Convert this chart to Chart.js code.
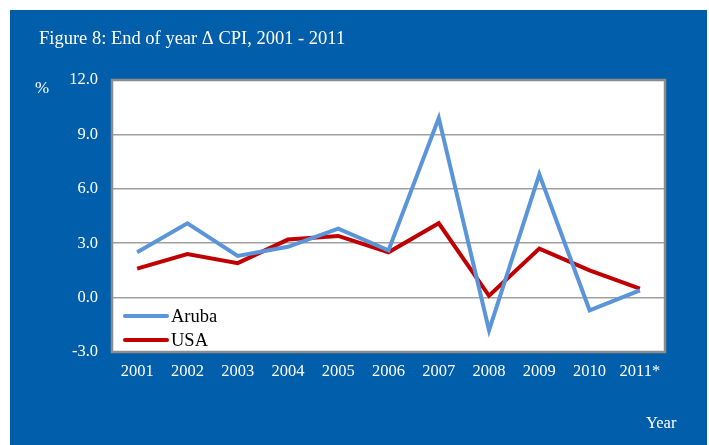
<!DOCTYPE html>
<html>
<head>
<meta charset="utf-8">
<script src="https://cdn.jsdelivr.net/npm/chart.js@4.4.1/dist/chart.umd.min.js"></script>
<style>
  html, body { margin: 0; padding: 0; background: #ffffff; }
  #wrap { position: relative; width: 709px; height: 445px; }
</style>
</head>
<body>
<div id="wrap"><canvas id="cpiChart" width="709" height="445"></canvas></div>
<script>
// End of year change in CPI
const years = ['2001', '2002', '2003', '2004', '2005', '2006', '2007', '2008', '2009', '2010', '2011*'];
const aruba = [2.5, 4.1, 2.3, 2.8, 3.8, 2.6, 9.9, -1.8, 6.8, -0.7, 0.4];
const usa = [1.6, 2.4, 1.9, 3.2, 3.4, 2.5, 4.1, 0.1, 2.7, 1.5, 0.5];
const yTicks = [-3, 0, 3, 6, 9, 12];

const BLUE_BG = '#005EAA';
const SERIF = '"Liberation Serif", "Times New Roman", serif';

// blue panel, white plot area, border, title and legend
const framePlugin = {
  id: 'frame',
  beforeDraw(chart) {
    const { ctx, chartArea: a } = chart;
    ctx.save();
    ctx.fillStyle = '#ffffff';
    ctx.fillRect(0, 0, chart.width, chart.height);
    ctx.fillStyle = BLUE_BG;
    ctx.fillRect(10, 10, 697, 435);
    ctx.fillStyle = '#ffffff';
    ctx.fillRect(a.left, a.top, a.right - a.left, a.bottom - a.top);
    ctx.restore();
  },
  afterDatasetsDraw(chart) {
    const { ctx, chartArea: a } = chart;
    ctx.save();
    // plot border
    ctx.strokeStyle = '#8c8c8c';
    ctx.lineWidth = 2.5;
    ctx.strokeRect(a.left, a.top, a.right - a.left, a.bottom - a.top);

    // texts on the blue panel
    ctx.fillStyle = '#ffffff';
    ctx.textBaseline = 'alphabetic';
    ctx.textAlign = 'left';
    ctx.font = '18.5px ' + SERIF;
    ctx.fillText('Figure 8: End of year \u0394 CPI, 2001 - 2011', 39, 44);
    ctx.font = '17px ' + SERIF;
    ctx.fillText('%', 35, 93);
    ctx.font = '16.5px ' + SERIF;
    ctx.fillText('Year', 646, 428);

    // legend inside the plot
    const rows = [[125, 316], [125, 340]];
    chart.data.datasets.forEach((ds, i) => {
      const [x, y] = rows[i];
      ctx.strokeStyle = ds.borderColor;
      ctx.lineWidth = 4;
      ctx.lineCap = 'round';
      ctx.beginPath();
      ctx.moveTo(x, y);
      ctx.lineTo(x + 42, y);
      ctx.stroke();
      ctx.fillStyle = '#000000';
      ctx.font = '18.5px ' + SERIF;
      ctx.textBaseline = 'middle';
      ctx.fillText(ds.label, x + 46, y + 1);
    });
    ctx.restore();
  }
};

new Chart(document.getElementById('cpiChart'), {
  type: 'line',
  data: {
    labels: years,
    datasets: [
      { label: 'Aruba', data: aruba, borderColor: '#5B95D9', borderWidth: 4, pointRadius: 0, tension: 0 },
      { label: 'USA', data: usa, borderColor: '#C00000', borderWidth: 4, pointRadius: 0, tension: 0 }
    ]
  },
  options: {
    responsive: false,
    animation: false,
    layout: { padding: { left: 0, top: 80, right: 44, bottom: 0 } },
    plugins: {
      legend: { display: false },
      tooltip: { enabled: false },
      title: { display: false }
    },
    scales: {
      x: {
        offset: true,
        grid: { display: false, drawTicks: false },
        border: { display: false },
        ticks: { color: '#ffffff', font: { family: SERIF, size: 16.5 }, padding: 10, maxRotation: 0 },
        afterFit(scale) { scale.height = 93; }
      },
      y: {
        min: -3,
        max: 12,
        afterBuildTicks(scale) { scale.ticks = yTicks.map(v => ({ value: v })); },
        grid: { color: '#a0a0a0', lineWidth: 1.5, drawTicks: false },
        border: { display: false },
        ticks: {
          color: '#ffffff',
          font: { family: SERIF, size: 16.5 },
          padding: 14,
          callback: v => v.toFixed(1)
        },
        afterFit(scale) { scale.width = 112; }
      }
    }
  },
  plugins: [framePlugin]
});
</script>
</body>
</html>
